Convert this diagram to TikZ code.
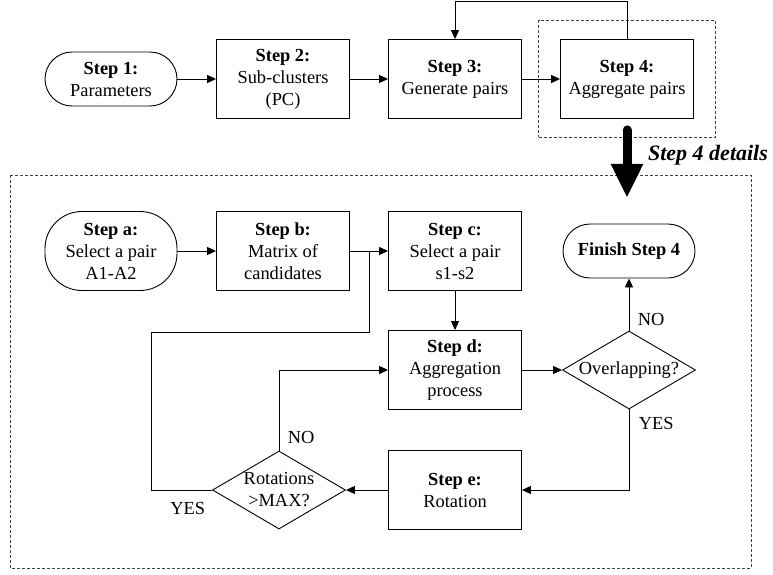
\documentclass[tikz,border=0pt]{standalone}
\usepackage{fontspec}
\setmainfont{Liberation Serif}
\usetikzlibrary{shapes.geometric, arrows.meta, positioning, calc, fit}
\tikzstyle{startstop} = [rectangle, rounded corners=27pt, minimum width=132pt, minimum height=54pt, text centered, align=center, draw=black, line width=0.9pt, inner sep=2pt]
\tikzstyle{process} = [rectangle, minimum width=133pt, minimum height=79pt, text centered, align=center, draw=black, line width=0.9pt, inner sep=2pt]
\tikzstyle{decision} = [diamond, aspect=1.7, minimum width=133pt, minimum height=78pt, inner sep=-3pt, text centered, align=center, draw=black, line width=0.9pt]
\tikzstyle{arrow} = [line width=0.9pt, -{Triangle[length=9pt, width=8pt]}]
\tikzstyle{line} = [line width=0.9pt]
\tikzstyle{dashed box} = [draw=black!75, line width=0.9pt, dash pattern=on 3pt off 2pt]
\tikzstyle{big arrow} = [line width=9pt, line cap=round, -{Triangle[length=34pt, width=30pt]}]

\begin{document}
\begin{tikzpicture}[x=1pt, y=-1pt, node distance=172pt, font=\fontsize{18.4}{22}\selectfont]
\useasboundingbox (0,0) rectangle (773,575);

% Main steps
\node (s1) [startstop] at (111,79) {\textbf{Step 1:}\\Parameters};
\node (s2) [process, right of=s1] {\textbf{Step 2:}\\Sub-clusters\\(PC)};
\node (s3) [process, right of=s2] {\textbf{Step 3:}\\Generate pairs};
\node (s4) [process, right of=s3] {\textbf{Step 4:}\\Aggregate pairs};
\node (s4box) [dashed box, fit=(s4), inner xsep=21.5pt, inner ysep=18.5pt] {};

% Step 4 details
\draw [dashed box] (10,175) rectangle (751,568);
\draw [big arrow] ($(s4box.south)+(0,-8)$) -- ++(0,68);
\node (det) [font=\fontsize{22}{26}\selectfont\bfseries\itshape] at (708,155) {Step 4 details};

\node (sa) [startstop, minimum height=79pt, rounded corners=37pt] at (111,251) {\textbf{Step a:}\\Select a pair\\A1-A2};
\node (sb) [process, right of=sa] {\textbf{Step b:}\\Matrix of\\candidates};
\node (sc) [process, right of=sb] {\textbf{Step c:}\\Select a pair\\s1-s2};
\node (fin) [startstop, right of=sc, xshift=2pt] {\textbf{Finish Step 4}};
\node (sd) [process, below of=sc, node distance=119pt] {\textbf{Step d:}\\Aggregation\\process};
\node (ov) [decision, right of=sd, xshift=2pt] {Overlapping?};
\node (se) [process, below of=sd, node distance=120pt] {\textbf{Step e:}\\Rotation};
\node (rot) [decision, left of=se, xshift=-4pt] {Rotations\\>MAX?};

% Arrows
\draw [arrow] (s1) -- (s2);
\draw [arrow] (s2) -- (s3);
\draw [arrow] (s3) -- (s4);
\draw [arrow] (s4.north) -- ++(0,-38) -| (s3.north);

\draw [arrow] (sa) -- (sb);
\draw [arrow] (sb) -- (sc);
\coordinate (j1) at ($(sb.east)!0.5!(sc.west)$);
\draw [arrow] (sc) -- (sd);
\draw [arrow] (sd) -- (ov);
\draw [arrow] (ov) -- node[right, pos=0.22, xshift=5pt] {NO} (fin);
\draw [arrow] (ov.south) |- node[right, pos=0.09, xshift=6pt] {YES} (se.east);
\draw [arrow] (se) -- (rot);
\draw [arrow] (rot.north) |- node[right, pos=0.08, xshift=5pt] {NO} (sd.west);
\draw [line] (rot.west) -- node[below, pos=0.4, yshift=-9pt] {YES} ++(-61,0) |- ($(j1)+(0,81)$) -- (j1);

\end{tikzpicture}
\end{document}
